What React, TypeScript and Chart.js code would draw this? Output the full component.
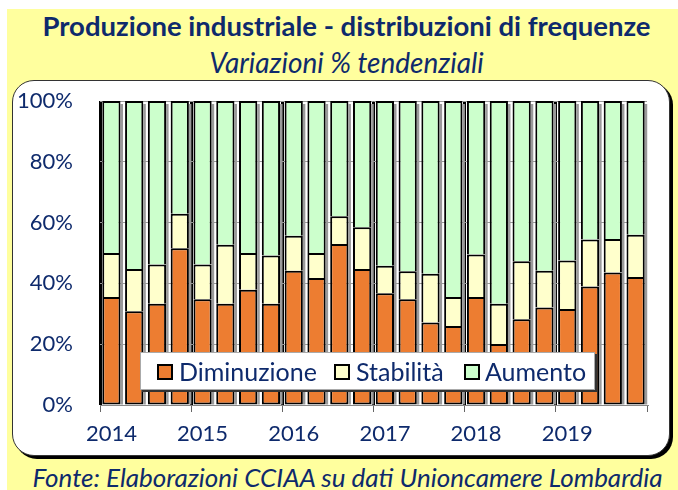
import React, { useEffect, useRef } from 'react';
import { Chart, registerables } from 'chart.js';

Chart.register(...registerables);

const years = ['2014', '2015', '2016', '2017', '2018', '2019'];
const quarters = ['I', 'II', 'III', 'IV'];
const categories = years.flatMap((y) => quarters.map((q) => `${q} trim. ${y}`));

const diminuzione = [35.5, 30.8, 33.3, 51.6, 34.8, 33.3, 37.9, 33.3, 44.2, 41.8, 53.0, 44.7, 36.8, 34.8, 27.1, 26.0, 35.5, 20.1, 28.2, 32.1, 31.6, 39.0, 43.6, 42.1];
const stabilita = [14.5, 13.9, 12.9, 11.3, 11.4, 19.4, 12.1, 15.9, 11.5, 8.2, 9.1, 13.8, 9.0, 9.2, 16.1, 9.5, 14.0, 13.2, 19.1, 12.1, 15.9, 15.4, 11.0, 13.9];
const aumento = [50.0, 55.3, 53.8, 37.1, 53.8, 47.3, 50.0, 50.8, 44.3, 50.0, 37.9, 41.5, 54.2, 56.0, 56.8, 64.5, 50.5, 66.7, 52.7, 55.8, 52.5, 45.6, 45.4, 44.0];

const seriesNames = ['Diminuzione', 'Stabilità', 'Aumento'];
const seriesColors = ['#ED7D31', '#FFFFCC', '#CCFFCC'];

const NAVY = '#0E2A6C';
const FONT = 'Lato, "Open Sans", sans-serif';

const barShadow = {
  id: 'barShadow',
  beforeDatasetsDraw(chart: any) {
    const ctx = chart.ctx;
    const m0 = chart.getDatasetMeta(0);
    const mTop = chart.getDatasetMeta(chart.data.datasets.length - 1);
    ctx.save();
    ctx.fillStyle = '#9a9a9a';
    m0.data.forEach((el: any, i: number) => {
      const top = mTop.data[i].y;
      const base = el.base;
      const right = el.x + el.width / 2;
      ctx.fillRect(right, top + 3, 2.5, base - top - 3);
    });
    ctx.restore();
  },
};

function ChartCanvas() {
  const ref = useRef<HTMLCanvasElement | null>(null);
  useEffect(() => {
    if (!ref.current) return;
    const values = [diminuzione, stabilita, aumento];
    const chart = new Chart(ref.current, {
      type: 'bar',
      data: {
        labels: categories,
        datasets: values.map((v, k) => ({
          label: seriesNames[k],
          data: v,
          backgroundColor: seriesColors[k],
          borderColor: '#000',
          borderWidth: 2,
          borderSkipped: k === 0 ? false : 'start',
          barPercentage: 0.8,
          categoryPercentage: 1,
        })),
      },
      options: {
        responsive: false,
        animation: false,
        layout: { padding: { top: 21, right: 23, left: 0, bottom: 0 } },
        plugins: { legend: { display: false }, tooltip: { enabled: false } },
        scales: {
          x: {
            stacked: true,
            offset: true,
            grid: {
              offset: true,
              drawTicks: true,
              tickLength: 7,
              tickWidth: 1,
              color: (c: any) => {
                const i = c.index ?? categories.length;
                return i % 4 === 0 && i < categories.length ? '#000' : 'rgba(0,0,0,0)';
              },
              lineWidth: (c: any) => {
                const i = c.index ?? categories.length;
                return i % 4 === 0 ? 3 : 1;
              },
              tickColor: (c: any) => {
                const i = c.index ?? categories.length;
                return i % 4 === 0 ? '#666' : 'rgba(0,0,0,0)';
              },
            },
            border: { display: true, color: '#888', width: 1 },
            ticks: {
              autoSkip: false,
              maxRotation: 0,
              padding: 9,
              color: NAVY,
              font: { family: FONT, size: 22 },
              callback: (_v: any, i: number) => (i % 4 === 0 ? years[i / 4] : ''),
            },
            afterFit: (s: any) => {
              s.height = 51;
            },
          },
          y: {
            stacked: true,
            min: 0,
            max: 100,
            grid: { color: '#999', drawTicks: false },
            border: { display: false },
            ticks: {
              stepSize: 20,
              padding: 27,
              color: NAVY,
              font: { family: FONT, size: 22 },
              callback: (v: any) => `${v}%`,
            },
            afterFit: (s: any) => {
              s.width = 88;
              s.paddingTop = 0;
              s.paddingBottom = 0;
            },
          },
        },
      },
      plugins: [barShadow],
    } as any);
    return () => chart.destroy();
  }, []);
  return <canvas ref={ref} width={658} height={376} style={{ position: 'absolute', left: 12, top: 80 }} />;
}

function LegendItem({ color, text, left, textLeft }: { color: string; text: string; left: number; textLeft: number }) {
  return (
    <>
      <div style={{ position: 'absolute', left, top: 11, width: 12, height: 12, border: '2px solid #000', background: color }} />
      <div style={{ position: 'absolute', left: textLeft, top: 0, lineHeight: '36px', fontSize: 25, color: NAVY, fontFamily: FONT, whiteSpace: 'nowrap' }}>{text}</div>
    </>
  );
}

export default function App() {
  return (
    <div style={{ position: 'fixed', left: 0, top: 0, width: 678, height: 490, background: '#fff', overflow: 'hidden', fontFamily: FONT }}>
      <div style={{ position: 'absolute', left: 7, top: 9, width: 671, height: 481, background: '#FFFF9E' }} />
      <div style={{ position: 'absolute', left: 0, width: 693, top: 11, lineHeight: '30px', textAlign: 'center', fontSize: 27.5, fontWeight: 'bold', color: NAVY, whiteSpace: 'nowrap' }}>
        Produzione industriale - distribuzioni di frequenze
      </div>
      <div style={{ position: 'absolute', left: 0, width: 693, top: 47, lineHeight: '30px', textAlign: 'center', fontSize: 28, fontStyle: 'italic', color: NAVY, whiteSpace: 'nowrap' }}>
        Variazioni % tendenziali
      </div>
      <div style={{ position: 'absolute', left: 12, top: 80, width: 656, height: 374, background: '#fff', border: '1px solid #333', borderRadius: 22, boxShadow: '3px 3px 0 #000' }} />
      <ChartCanvas />
      <div style={{ position: 'absolute', left: 140, top: 352, width: 453, height: 36, background: '#fff', border: '1px solid #aaa', boxShadow: '2px 2px 0 #333' }}>
        <LegendItem color={seriesColors[0]} text={seriesNames[0]} left={16} textLeft={38} />
        <LegendItem color={seriesColors[1]} text={seriesNames[1]} left={193} textLeft={215} />
        <LegendItem color={seriesColors[2]} text={seriesNames[2]} left={323} textLeft={344} />
      </div>
      <div style={{ position: 'absolute', left: 0, width: 695, top: 462, lineHeight: '30px', textAlign: 'center', fontSize: 26, fontStyle: 'italic', color: NAVY, whiteSpace: 'nowrap' }}>
        Fonte: Elaborazioni CCIAA su dati Unioncamere Lombardia
      </div>
    </div>
  );
}
